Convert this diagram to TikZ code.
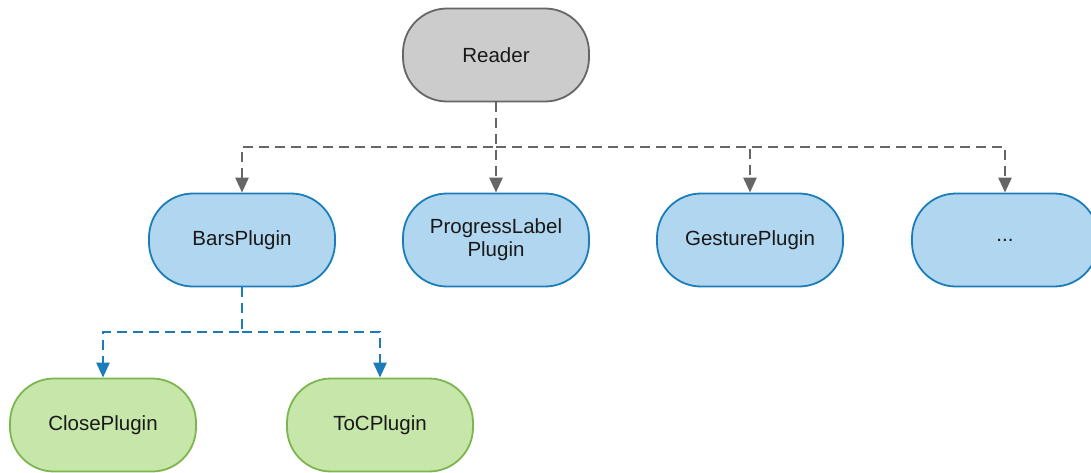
\documentclass[tikz,border=0pt]{standalone}
\usepackage{fontspec}
\setmainfont{Liberation Sans}
\usetikzlibrary{arrows.meta}
\definecolor{greyfill}{HTML}{CCCCCC}
\definecolor{greyline}{HTML}{666666}
\definecolor{bluefill}{HTML}{B1D6EF}
\definecolor{blueline}{HTML}{1A7DBA}
\definecolor{greenfill}{HTML}{C6E6AA}
\definecolor{greenline}{HTML}{7DB54E}
\tikzset{
  pill/.style={rectangle, rounded corners=44pt, minimum width=186pt, minimum height=93pt,
    line width=1.8pt, align=center, font=\fontsize{20.5pt}{24pt}\selectfont, text=black!90},
  core/.style={pill, fill=greyfill, draw=greyline},
  plugin/.style={pill, fill=bluefill, draw=blueline},
  subplugin/.style={pill, fill=greenfill, draw=greenline},
  conn/.style={line width=2.6pt, dash pattern=on 10pt off 6pt,
    -{Triangle[width=13pt,length=15pt]}},
  greyconn/.style={conn, draw=greyline},
  blueconn/.style={conn, draw=blueline},
}
\begin{document}
\begin{tikzpicture}[x=1pt, y=-1pt]
  \useasboundingbox (0,0) rectangle (1091,472);
  \clip (0,0) rectangle (1091,472);

  % top level
  \node[core] (reader) at (496,55) {Reader};

  % first row of plugins
  \node[plugin] (bars)     at (242,240) {BarsPlugin};
  \node[plugin] (progress) at (496,240) {ProgressLabel\\[-1pt]Plugin};
  \node[plugin] (gesture)  at (750,240) {GesturePlugin};
  \node[plugin] (more)     at (1005,240) {...};

  % plugins nested under BarsPlugin
  \node[subplugin] (close) at (103,425) {ClosePlugin};
  \node[subplugin] (toc)   at (380,425) {ToCPlugin};

  % bus levels
  \coordinate (busA) at (0,147);
  \coordinate (busB) at (0,332);

  % connectors from Reader
  \draw[greyconn] (reader.south) -- (reader.south |- busA) -| (bars.north);
  \draw[greyconn] (reader.south) -- (progress.north);
  \draw[greyconn] (reader.south |- busA) -| (gesture.north);
  \draw[greyconn] (reader.south |- busA) -| (more.north);

  % connectors from BarsPlugin
  \draw[blueconn] (bars.south) -- (bars.south |- busB) -| (close.north);
  \draw[blueconn] (bars.south |- busB) -| (toc.north);
\end{tikzpicture}
\end{document}
